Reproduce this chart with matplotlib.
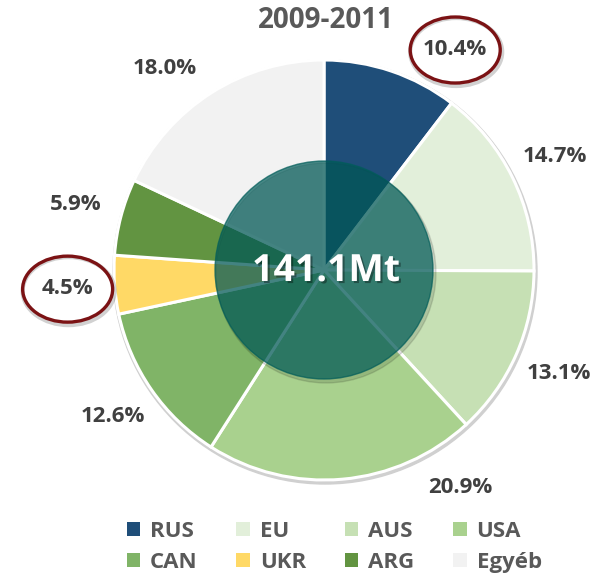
"""2009-2011 export shares pie chart with a translucent centre disc."""

import matplotlib

matplotlib.use("Agg")
import matplotlib.pyplot as plt
import matplotlib.patheffects as pe
import numpy as np
from matplotlib.patches import Circle, Ellipse, Patch

plt.rcParams["font.family"] = ["Open Sans", "DejaVu Sans"]

# --- data ---
countries = ["RUS", "EU", "AUS", "USA", "CAN", "UKR", "ARG", "Egyéb"]
shares = [10.4, 14.7, 13.1, 20.9, 12.6, 4.5, 5.9, 18.0]
colors = ["#1f4e79", "#e2efda", "#c6e0b4", "#a9d18e",
          "#80b467", "#ffd966", "#629441", "#f2f2f2"]
total_label = "141.1Mt"
title = "2009-2011"
highlighted = ["RUS", "UKR"]

# label angle nudges (degrees), like the hand-moved labels in the original
label_nudge = {"RUS": -12, "USA": 27, "Egyéb": 6}

W, H = 613, 576
cx, cy = 324, H - 270
R = 210

fig = plt.figure(figsize=(W / 100, H / 100), dpi=100)
ax = fig.add_axes([0, 0, 1, 1])

# soft outer shadow
ax.add_patch(Circle((cx + 1, cy - 2), R + 2, color="#d0d0d0", zorder=0))

wedges, _ = ax.pie(
    shares, colors=colors, startangle=90, counterclock=False,
    center=(cx, cy), radius=R,
    wedgeprops=dict(edgecolor="white", linewidth=2.2),
)
for w in wedges:
    w.set_zorder(1)

ax.set_xlim(0, W)
ax.set_ylim(0, H)
ax.axis("off")

# percentage labels
for w, name, val in zip(wedges, countries, shares):
    mid = (w.theta1 + w.theta2) / 2 + label_nudge.get(name, 0)
    x = cx + 257 * np.cos(np.radians(mid))
    y = cy + 257 * np.sin(np.radians(mid))
    ax.text(x, y, f"{val:.1f}%", ha="center", va="center",
            fontsize=16, fontweight="bold", color="#404040", zorder=5)
    if name in highlighted:
        ax.add_patch(Ellipse((x + 1, y - 3), 92, 68, fill=False,
                             edgecolor="#000000", alpha=0.18, lw=3, zorder=4))
        ax.add_patch(Ellipse((x, y - 1), 90, 66, fill=False,
                             edgecolor="#7b1214", lw=2.4, zorder=5))

# translucent centre disc
ax.add_patch(Circle((cx + 2, cy - 3), 110, color="#000000", alpha=0.12, zorder=2))
ax.add_patch(Circle((cx, cy), 109, color="#005c59", alpha=0.7, zorder=3))
ax.text(cx + 2, cy - 1, total_label, ha="center", va="center",
        fontsize=27, fontweight="bold", color="white", zorder=6,
        path_effects=[pe.withSimplePatchShadow(offset=(1.5, -1.5),
                                               shadow_rgbFace="black",
                                               alpha=0.35)])

ax.text(cx + 2, H - 21, title, ha="center", va="center",
        fontsize=20, fontweight="bold", color="#595959")

# legend, row-wise order
handles = [Patch(facecolor=c, edgecolor="none") for c in colors]
order = [0, 4, 1, 5, 2, 6, 3, 7]
leg = fig.legend(
    [handles[i] for i in order], [countries[i] for i in order],
    ncol=4, loc="center", bbox_to_anchor=(0.545, 1 - 547 / H),
    frameon=False, handlelength=0.6, handleheight=0.6,
    handletextpad=0.45, columnspacing=1.75, labelspacing=0.45,
    prop=dict(size=16, weight="bold"),
)
for t in leg.get_texts():
    t.set_color("#595959")

fig.savefig("out.png", dpi=100)
